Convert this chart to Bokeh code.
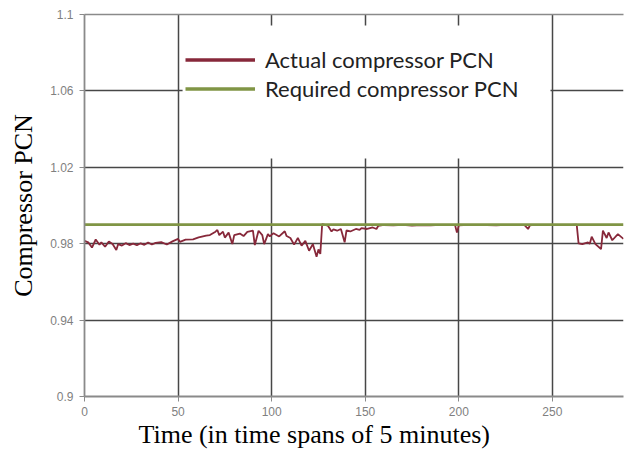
from bokeh.plotting import figure
from bokeh.models import (Range1d, FixedTicker, Legend, LegendItem, BoxAnnotation, Title,
                          LinearAxis)
from bokeh.embed import file_html
from bokeh.resources import INLINE

# ---- data ----
time_actual = [0, 2, 4, 6, 8, 9, 11, 13, 15, 17, 18, 20, 22, 24, 26, 28, 30, 32, 34, 36, 38,
               41, 44, 47, 50, 51, 54, 58, 61, 65, 67, 70, 71, 72, 74, 75, 77, 79, 80, 83, 85,
               87, 90, 91, 93, 95, 96, 98, 99, 101, 104, 107, 108, 110, 112, 114, 116, 118, 120,
               122, 124, 125, 126, 127, 130, 132, 133, 135, 137, 139, 140, 142, 145, 147, 148,
               151, 154, 156, 157, 160, 165, 170, 175, 180, 185, 190, 195, 198, 199, 200, 205,
               210, 215, 220, 225, 230, 235, 237, 238, 240, 245, 250, 255, 260, 263, 264, 266,
               269, 270, 271, 273, 276, 277, 279, 280, 282, 285, 288]
pcn_actual = [0.9815, 0.9807, 0.9780, 0.9822, 0.9795, 0.9807, 0.9784, 0.9812, 0.9798, 0.9767,
              0.9798, 0.9790, 0.9803, 0.9793, 0.9800, 0.9792, 0.9802, 0.9794, 0.9806, 0.9796,
              0.9804, 0.9808, 0.9796, 0.9812, 0.9825, 0.9810, 0.9821, 0.9823, 0.9833, 0.9842,
              0.9845, 0.9863, 0.9872, 0.9845, 0.9863, 0.9832, 0.9858, 0.9798, 0.9845, 0.9853,
              0.9840, 0.9862, 0.9868, 0.9793, 0.9868, 0.9845, 0.9798, 0.9850, 0.9838, 0.9855,
              0.9838, 0.9865, 0.9840, 0.9830, 0.9795, 0.9830, 0.9790, 0.9815, 0.9763, 0.9798,
              0.9732, 0.9770, 0.9746, 0.9903, 0.9895, 0.9864, 0.9875, 0.9868, 0.9877, 0.9807,
              0.9870, 0.9864, 0.9877, 0.9872, 0.9882, 0.9877, 0.9885, 0.9877, 0.9894, 0.9898,
              0.9896, 0.9899, 0.9895, 0.9898, 0.9896, 0.9899, 0.9897, 0.9898, 0.9858, 0.9896,
              0.9899, 0.9897, 0.9898, 0.9896, 0.9899, 0.9897, 0.9898, 0.9877, 0.9896, 0.9899,
              0.9897, 0.9898, 0.9899, 0.9898, 0.9900, 0.9802, 0.9798, 0.9807, 0.9800, 0.9837,
              0.9798, 0.9772, 0.9868, 0.9830, 0.9859, 0.9818, 0.9850, 0.9825]
time_required = [0, 288]
pcn_required = [0.99, 0.99]

x_ticks = [0, 50, 100, 150, 200, 250]
y_ticks = [0.9, 0.94, 0.98, 1.02, 1.06, 1.1]
y_tick_labels = ["0.9", "0.94", "0.98", "1.02", "1.06", "1.1"]

series_names = ["Actual compressor PCN", "Required compressor PCN"]
x_title = "Time (in time spans of 5 minutes)"
y_title = "Compressor PCN"
red = "#87283a"
green = "#809545"

p = figure(width=625, height=451, x_range=Range1d(0, 288), y_range=Range1d(0.9, 1.1),
           output_backend="svg", toolbar_location=None,
           min_border_left=84, min_border_right=2, min_border_top=14, min_border_bottom=55)
p.outline_line_color = None
p.background_fill_color = "white"
p.border_fill_color = "white"

# grid
p.xgrid.ticker = FixedTicker(ticks=x_ticks)
p.ygrid.ticker = FixedTicker(ticks=y_ticks)
for g in (p.xgrid, p.ygrid):
    g.grid_line_color = "#474747"
    g.grid_line_width = 1.5

# axes
p.xaxis.ticker = FixedTicker(ticks=x_ticks)
p.yaxis.ticker = FixedTicker(ticks=y_ticks)
p.yaxis.major_label_overrides = {t: s for t, s in zip(y_ticks, y_tick_labels)}
for ax in (p.xaxis, p.yaxis):
    ax.axis_line_color = "#8a8a8a"
    ax.axis_line_width = 1.8
    ax.major_tick_line_color = "#8a8a8a"
    ax.major_tick_out = 5
    ax.major_tick_in = 0
    ax.minor_tick_line_color = None
    ax.major_label_text_font = "Liberation Sans"
    ax.major_label_text_font_size = "12px"
    ax.major_label_text_color = "#7f7f7f"
p.yaxis.major_label_standoff = 6
p.xaxis.major_label_standoff = 5
p.yaxis.axis_label = y_title
p.yaxis.axis_label_text_font = "Liberation Serif"
p.yaxis.axis_label_text_font_size = "26px"
p.yaxis.axis_label_text_font_style = "normal"
p.yaxis.axis_label_text_color = "black"
p.yaxis.axis_label_standoff = 9

# top border line
top_axis = LinearAxis(ticker=FixedTicker(ticks=[]), axis_line_color="#8a8a8a",
                      axis_line_width=1.5, major_tick_line_color=None,
                      minor_tick_line_color=None, major_label_text_font_size="0px")
p.add_layout(top_axis, "above")

# x title as a panel below, positioned like the reference
p.add_layout(Title(text=x_title, align="left", offset=54, standoff=0,
                   text_font="Liberation Serif", text_font_size="26px",
                   text_font_style="normal", text_color="black",
                   vertical_align="middle"), "below")

# data lines
p.line(time_actual, pcn_actual, line_color=red, line_width=1.8)
p.line(time_required, pcn_required, line_color=green, line_width=2.8)

# white legend area hiding the grid
p.add_layout(BoxAnnotation(left=52.4, right=249, top=1.0942, bottom=1.0246,
                           fill_color="white", fill_alpha=1.0, line_color=None))

nan2 = [float("nan"), float("nan")]
leg_a = p.line(time_required, nan2, line_color=red, line_width=3.5)
leg_r = p.line(time_required, nan2, line_color=green, line_width=3.5)
legend = Legend(items=[LegendItem(label=series_names[0], renderers=[leg_a]),
                       LegendItem(label=series_names[1], renderers=[leg_r])],
                location=(101, 293), glyph_width=70, glyph_height=29, spacing=0,
                padding=0, margin=0, label_standoff=10,
                background_fill_alpha=0, border_line_color=None,
                label_text_font="Lato", label_text_font_size="22px",
                label_text_color="#222222")
p.add_layout(legend)

open("out.html", "w").write(file_html(p, INLINE))
